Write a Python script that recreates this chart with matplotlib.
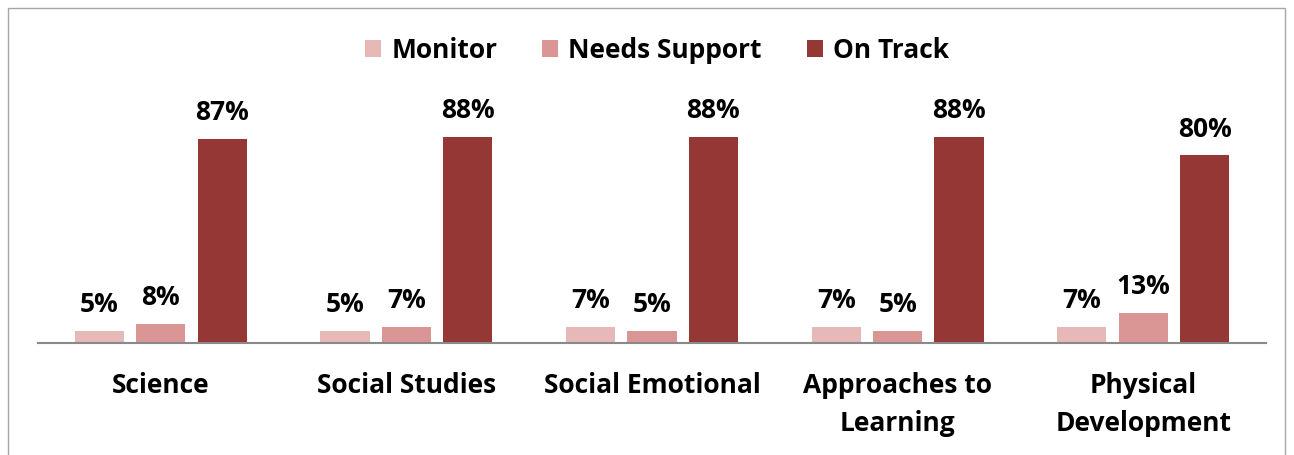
import numpy as np
import matplotlib.pyplot as plt
from matplotlib.patches import Rectangle

categories = ['Science', 'Social Studies', 'Social Emotional', 'Approaches to\nLearning', 'Physical\nDevelopment']
series = ['Monitor', 'Needs Support', 'On Track']
monitor = [5, 5, 7, 7, 7]
needs_support = [8, 7, 5, 5, 13]
on_track = [87, 88, 88, 88, 80]
colors = ['#E6B9B8', '#D99694', '#953735']

plt.rcParams['font.family'] = ['Open Sans', 'DejaVu Sans']
plt.rcParams['font.weight'] = 'bold'
fs = 19

fig = plt.figure(figsize=(12.94, 4.55), dpi=100)
W, H = 1294, 455
ax = fig.add_axes([38 / W, 112 / H, (1266 - 38) / W, 234.5 / H])

x = np.arange(len(categories))
offsets = [-0.25, 0, 0.25]
for vals, off, col, name in zip([monitor, needs_support, on_track], offsets, colors, series):
    bars = ax.bar(x + off, vals, width=0.2, color=col, label=name)
    for b, v in zip(bars, vals):
        ax.text(b.get_x() + b.get_width() / 2, v + 5.5, f'{v}%', ha='center', va='bottom',
                fontsize=fs, fontweight='bold', clip_on=False)

ax.set_xlim(-0.5, len(categories) - 0.5)
ax.set_ylim(0, 100)
ax.set_xticks(x)
ax.set_xticklabels(categories, fontsize=fs, fontweight='bold', linespacing=1.5)
ax.tick_params(axis='x', length=0, pad=21)
ax.set_yticks([])
for s in ['top', 'right', 'left']:
    ax.spines[s].set_visible(False)
ax.spines['bottom'].set_color('#898989')
ax.spines['bottom'].set_linewidth(1.5)

fig.legend(loc='center', bbox_to_anchor=(657 / W, 1 - 50 / H), ncol=3, frameon=False,
           handlelength=0.6, handleheight=0.6, handletextpad=0.4, columnspacing=1.7,
           prop={'weight': 'bold', 'size': fs})

fig.patches.append(Rectangle((8 / W, -0.1), (1285 - 8) / W, 1 - 8 / H + 0.1, transform=fig.transFigure,
                             fill=False, edgecolor='#A6A6A6', linewidth=1))

fig.savefig('out.png', dpi=100)
